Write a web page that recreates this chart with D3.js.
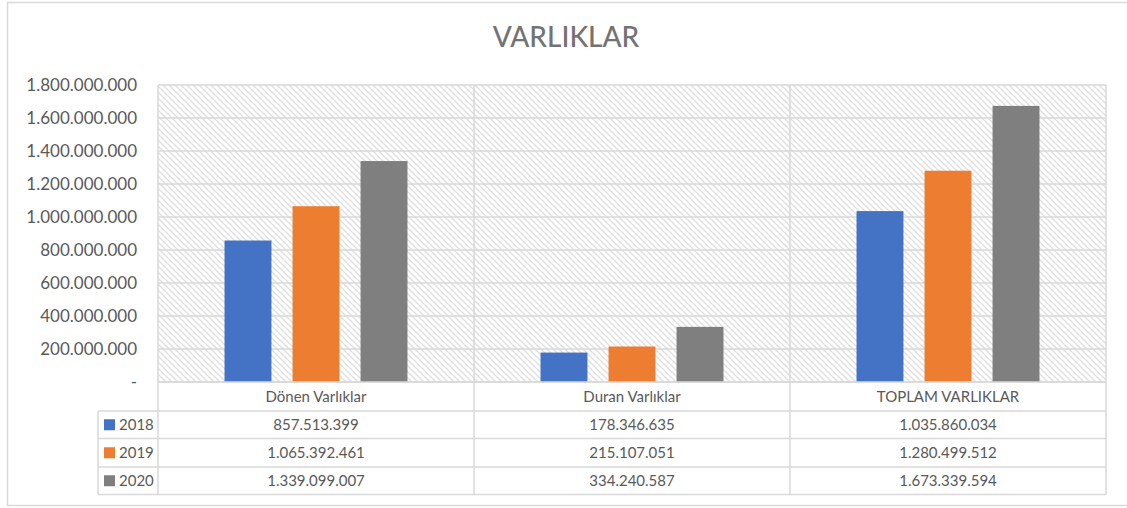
<!DOCTYPE html>
<html><head><meta charset="utf-8">
<script src="https://cdn.jsdelivr.net/npm/d3@7/dist/d3.min.js"></script>
<style>
html,body{margin:0;padding:0;background:#fff;}
svg{display:block;font-family:Lato,"Open Sans",sans-serif;}
</style></head>
<body><svg id="c" width="1127" height="508"></svg>
<script>
const title = "VARLIKLAR";
const categories = ["Dönen Varlıklar", "Duran Varlıklar", "TOPLAM VARLIKLAR"];
const seriesNames = ["2018", "2019", "2020"];
const values2018 = [857513399, 178346635, 1035860034];
const values2019 = [1065392461, 215107051, 1280499512];
const values2020 = [1339099007, 334240587, 1673339594];
const yTicks = [0, 200000000, 400000000, 600000000, 800000000, 1000000000, 1200000000, 1400000000, 1600000000, 1800000000];
const colors = ["#4472C4", "#ED7D31", "#7F7F7F"];

(function () {
const seriesValues = [values2018, values2019, values2020];
const loc = d3.formatLocale({decimal: ",", thousands: ".", grouping: [3], currency: ["", ""]});
const fmt = loc.format(",d");

const svg = d3.select("#c");
const pL = 158, pR = 1106, pT = 85, pB = 382;
const rowH = [29, 27.5, 28.5, 27.5];
const legendLeft = 98;
const textCol = "#595959", lineCol = "#d9d9d9";

svg.append("rect").attr("x", 7.5).attr("y", 2.5).attr("width", 1140).attr("height", 503)
  .attr("fill", "#fff").attr("stroke", lineCol).attr("stroke-width", 1.5);

const defs = svg.append("defs");
const pat = defs.append("pattern").attr("id", "hatch").attr("patternUnits", "userSpaceOnUse")
  .attr("width", 6).attr("height", 6);
pat.append("rect").attr("width", 6).attr("height", 6).attr("fill", "#fff");
pat.append("path").attr("d", "M-1,-1 L7,7 M-1,5 L1,7 M5,-1 L7,1")
  .attr("stroke", "#e0e0e0").attr("stroke-width", 1.4);

svg.append("text").attr("x", 566).attr("y", 47).attr("text-anchor", "middle")
  .attr("font-size", 28).attr("font-weight", 500).attr("fill", "#737373").text(title);

const y = d3.scaleLinear().domain([0, 1800000000]).range([pB, pT]);
const x0 = d3.scaleBand().domain(categories).range([pL, pR]).padding(0);
const x1 = d3.scaleBand().domain(seriesNames).range([0, x0.bandwidth()]).paddingInner(0.31).paddingOuter(0.978);

svg.append("rect").attr("x", pL).attr("y", pT).attr("width", pR - pL).attr("height", pB - pT)
  .attr("fill", "url(#hatch)");

svg.append("g").selectAll("line").data(yTicks).join("line")
  .attr("x1", pL).attr("x2", pR).attr("y1", d => y(d)).attr("y2", d => y(d))
  .attr("stroke", lineCol).attr("stroke-width", 1.5);

const yAxis = d3.axisLeft(y).tickValues(yTicks).tickSize(0).tickPadding(0)
  .tickFormat(d => d === 0 ? "-" : fmt(d));
const ya = svg.append("g").attr("transform", `translate(${pL - 21},0)`).call(yAxis);
ya.select(".domain").remove();
ya.selectAll("text").attr("font-size", 17).attr("fill", textCol).attr("font-family", "Lato,'Open Sans',sans-serif").attr("dy", "0.35em");

const gCat = svg.append("g").selectAll("g").data(categories).join("g")
  .attr("transform", d => `translate(${x0(d)},0)`);
gCat.selectAll("rect").data((c, ci) => seriesNames.map((s, si) => ({s, si, v: seriesValues[si][ci]})))
  .join("rect")
  .attr("x", d => x1(d.s)).attr("width", x1.bandwidth())
  .attr("y", d => y(d.v)).attr("height", d => pB - y(d.v))
  .attr("fill", d => colors[d.si]);

const rowTops = [pB];
rowH.forEach((h, i) => rowTops.push(rowTops[i] + h));
const tableBottom = rowTops[rowTops.length - 1];
const tg = svg.append("g");
x0.domain().map(c => x0(c)).concat([pR]).forEach(xv => {
  tg.append("line").attr("x1", xv).attr("x2", xv).attr("y1", pT).attr("y2", tableBottom)
    .attr("stroke", lineCol).attr("stroke-width", 1.5);
});
tg.append("line").attr("x1", legendLeft).attr("x2", legendLeft).attr("y1", rowTops[1]).attr("y2", tableBottom)
  .attr("stroke", lineCol).attr("stroke-width", 1.5);
rowTops.forEach((yy, i) => {
  tg.append("line").attr("x1", i === 0 ? pL : legendLeft).attr("x2", pR).attr("y1", yy).attr("y2", yy)
    .attr("stroke", lineCol).attr("stroke-width", 1.5);
});
tg.selectAll("text.cat").data(categories).join("text").attr("class", "cat")
  .attr("x", d => x0(d) + x0.bandwidth() / 2).attr("y", (rowTops[0] + rowTops[1]) / 2).attr("dy", "0.35em")
  .attr("text-anchor", "middle").attr("font-size", 15).attr("fill", textCol).text(d => d);
seriesNames.forEach((s, si) => {
  const cy = (rowTops[si + 1] + rowTops[si + 2]) / 2;
  tg.append("rect").attr("x", 104).attr("y", cy - 5.5).attr("width", 11).attr("height", 11).attr("fill", colors[si]);
  tg.append("text").attr("x", 119).attr("y", cy).attr("dy", "0.35em").attr("font-size", 15)
    .attr("fill", textCol).text(s);
  tg.selectAll(null).data(categories).join("text")
    .attr("x", d => x0(d) + x0.bandwidth() / 2).attr("y", cy).attr("dy", "0.35em")
    .attr("text-anchor", "middle").attr("font-size", 15).attr("fill", textCol)
    .text((d, ci) => fmt(seriesValues[si][ci]));
});
})();
</script></body></html>
